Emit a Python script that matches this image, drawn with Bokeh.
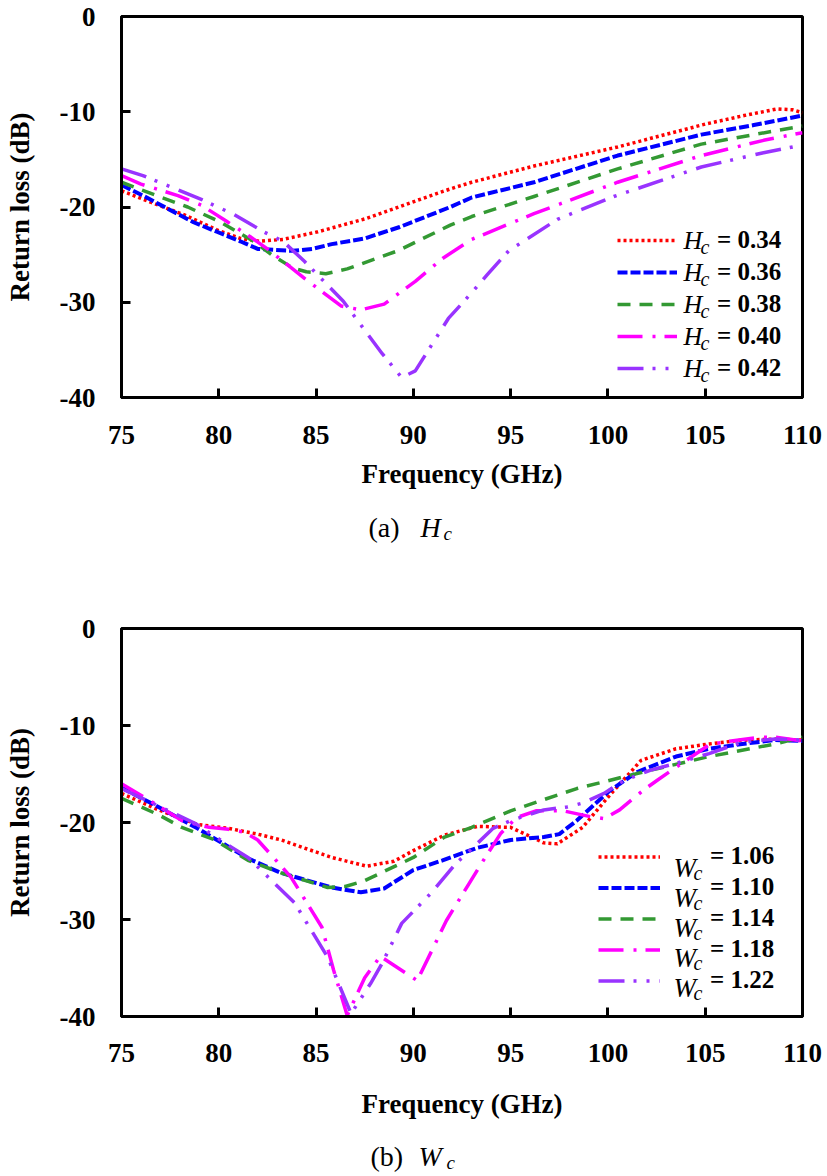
from bokeh.plotting import figure
from bokeh.models import Legend, LegendItem, Label, FixedTicker, Range1d
from bokeh.layouts import column
from bokeh.embed import file_html
from bokeh.resources import INLINE

# ---------------- data: (a) Hc ----------------
hc_labels = ["= 0.34", "= 0.36", "= 0.38", "= 0.40", "= 0.42"]

f_h034 = [75, 76.5, 78.2, 79.9, 81.1, 82.1, 83.3, 85.1, 87.6, 90.2, 91.9, 93.0, 96.2, 100.5, 105.0, 107.0, 108.7, 109.5, 110]
s_h034 = [-18.3, -19.5, -20.8, -22.4, -23.3, -23.6, -23.4, -22.6, -21.2, -19.3, -18.1, -17.4, -15.7, -13.7, -11.3, -10.4, -9.7, -9.8, -10.1]

f_h036 = [75, 76.1, 77.4, 78.7, 79.9, 81.1, 82.0, 82.8, 83.8, 84.8, 85.8, 87.5, 89.3, 91.9, 93.0, 96.2, 100.5, 104.8, 107.5, 110]
s_h036 = [-17.7, -18.8, -20.2, -21.6, -22.6, -23.6, -24.4, -24.5, -24.6, -24.4, -23.9, -23.3, -22.1, -20.0, -19.0, -17.4, -14.6, -12.4, -11.4, -10.4]

f_h038 = [75, 76.8, 78.4, 80.1, 81.8, 82.7, 83.8, 84.5, 85.5, 86.6, 89.2, 91.9, 93.0, 96.2, 100.5, 104.8, 107.5, 110]
s_h038 = [-17.4, -18.8, -20.0, -21.6, -23.6, -25.0, -26.4, -26.8, -27.0, -26.5, -24.6, -21.9, -21.0, -18.9, -16.0, -13.4, -12.4, -11.5]

f_h040 = [75, 76.0, 77.9, 79.1, 80.4, 81.6, 82.5, 84.6, 86.3, 87.3, 88.5, 90.1, 91.5, 93.0, 96.2, 100.5, 104.8, 108.0, 110]
s_h040 = [-16.7, -17.6, -18.8, -19.8, -21.5, -23.1, -24.4, -27.8, -30.4, -30.8, -30.2, -27.8, -25.4, -23.4, -20.7, -17.4, -14.6, -13.0, -12.2]

f_h042 = [75, 76.1, 77.9, 79.1, 80.8, 82.3, 83.3, 84.4, 86.4, 88.4, 89.4, 90.1, 91.8, 93.0, 93.8, 94.9, 97.4, 100.3, 104.8, 108.0, 110]
s_h042 = [-16.0, -16.7, -18.2, -19.2, -20.8, -22.6, -23.6, -25.7, -29.9, -35.4, -37.9, -37.2, -31.7, -29.0, -27.1, -24.6, -21.3, -18.9, -15.8, -14.3, -13.5]

# ---------------- data: (b) Wc ----------------
wc_labels = ["= 1.06", "= 1.10", "= 1.14", "= 1.18", "= 1.22"]

f_w106 = [75, 76.9, 78.9, 80.5, 82.0, 83.2, 85.8, 87.6, 89.0, 90.0, 91.6, 93.3, 95.0, 96.7, 97.4, 98.7, 100.0, 101.7, 103.5, 105.2, 106.9, 108.6, 110]
s_w106 = [-17.0, -18.7, -20.2, -20.6, -21.2, -21.8, -23.6, -24.5, -24.0, -22.9, -21.3, -20.4, -20.5, -22.1, -22.2, -20.5, -17.4, -13.6, -12.4, -11.9, -11.5, -11.4, -11.5]

f_w110 = [75, 76.9, 78.9, 81.5, 83.2, 85.8, 87.3, 88.5, 90.0, 91.5, 93.3, 95.0, 96.7, 97.5, 98.4, 100.1, 101.5, 103.5, 105.2, 106.9, 108.6, 110]
s_w110 = [-16.4, -18.4, -20.6, -23.7, -25.2, -26.7, -27.2, -26.8, -24.9, -23.9, -22.6, -21.8, -21.5, -21.2, -19.8, -16.7, -14.8, -13.2, -12.4, -11.9, -11.5, -11.6]

f_w114 = [75, 76.9, 78.1, 79.8, 81.5, 83.2, 85.6, 86.5, 87.5, 90.0, 91.6, 93.0, 95.0, 98.4, 101.8, 105.2, 108.6, 110]
s_w114 = [-17.5, -19.2, -20.5, -21.8, -23.9, -25.2, -26.7, -26.6, -26.0, -23.6, -21.5, -20.5, -18.8, -16.5, -14.8, -13.2, -11.9, -11.2]

f_w118 = [75, 76.5, 78.1, 79.5, 80.5, 81.3, 82.0, 83.7, 85.3, 85.9, 86.6, 87.5, 88.3, 90.2, 91.7, 92.8, 93.6, 94.5, 95.3, 96.3, 97.7, 99.1, 99.8, 100.6, 101.8, 102.5, 103.5, 105.2, 106.0, 107.8, 108.6, 110]
s_w118 = [-16.0, -17.8, -19.8, -20.5, -20.7, -21.0, -21.8, -25.6, -30.8, -35.2, -39.9, -36.0, -33.8, -36.3, -30.1, -26.5, -23.9, -21.1, -19.5, -18.8, -18.8, -19.4, -19.6, -18.7, -16.7, -15.7, -14.3, -12.0, -11.7, -11.2, -11.2, -11.6]

f_w122 = [75, 76.9, 78.8, 80.3, 81.5, 83.9, 85.6, 86.8, 87.8, 88.4, 89.4, 90.9, 92.2, 92.9, 94.1, 95.0, 96.7, 97.9, 98.7, 99.8, 100.8, 102.2, 103.5, 105.2, 106.9, 108.6, 110]
s_w122 = [-16.5, -18.3, -20.1, -22.1, -23.6, -28.3, -33.9, -39.7, -36.6, -34.5, -30.4, -27.3, -24.2, -22.9, -20.6, -19.8, -18.7, -18.4, -18.0, -17.0, -15.7, -14.6, -13.9, -12.9, -11.7, -11.4, -11.5]

x_ticks = [75, 80, 85, 90, 95, 100, 105, 110]
y_ticks = [-40, -30, -20, -10, 0]

colors = ["#FF0000", "#0000FF", "#339933", "#FF00FF", "#9933FF"]
dashes = ["3 3", "10 3", "13 9", "25 10 3 9", "26 9 3 10 3 10"]
widths = [3.5, 4, 3.5, 3.5, 3.5]

SERIF = "Liberation Serif"
PAGE_W = 827


def make_fig(height, bl, br, bt, bb, series, labels, letter, leg, tick_standoff, xlab_standoff):
    p = figure(width=PAGE_W, height=height, output_backend="svg", toolbar_location=None,
               x_range=Range1d(75, 110), y_range=Range1d(-40, 0),
               min_border_left=bl, min_border_right=br, min_border_top=bt, min_border_bottom=bb)
    p.background_fill_color = "white"
    p.border_fill_color = "white"
    p.outline_line_color = "black"
    p.outline_line_width = 3
    p.xgrid.visible = False
    p.ygrid.visible = False
    p.xaxis.ticker = FixedTicker(ticks=x_ticks)
    p.yaxis.ticker = FixedTicker(ticks=y_ticks)
    p.yaxis.major_label_overrides = {t: str(t) for t in y_ticks}
    p.xaxis.major_label_overrides = {t: str(t) for t in x_ticks}
    for ax in (p.xaxis[0], p.yaxis[0]):
        ax.axis_line_width = 3
        ax.axis_line_color = "black"
        ax.major_tick_line_width = 3
        ax.major_tick_line_color = "black"
        ax.major_tick_in = 9
        ax.major_tick_out = 0
        ax.minor_tick_line_color = None
        ax.major_label_text_font = SERIF
        ax.major_label_text_font_style = "bold"
        ax.major_label_text_font_size = "27px"
        ax.major_label_text_color = "black"
        ax.axis_label_text_font = SERIF
        ax.axis_label_text_font_style = "bold"
        ax.axis_label_text_font_size = "27px"
        ax.axis_label_text_color = "black"
    p.xaxis.major_label_standoff = tick_standoff
    p.yaxis.major_label_standoff = 26
    p.xaxis.axis_label = "Frequency (GHz)"
    p.xaxis.axis_label_standoff = xlab_standoff
    p.yaxis.axis_label = "Return loss (dB)"
    p.yaxis.axis_label_standoff = 22

    renderers = []
    for (fx, fy), c, d, w in zip(series, colors, dashes, widths):
        r = p.line(fx, fy, line_color=c, line_dash=d, line_width=w, line_join="round")
        renderers.append(r)

    (lx, ly, gw, gh, sp, stand, base, lett_x, lett_dy, sub_x, sub_dy, lett_size) = leg
    items = [LegendItem(label=lab, renderers=[r]) for lab, r in zip(labels, renderers)]
    legend = Legend(items=items, location=(lx, ly), glyph_width=gw, glyph_height=gh,
                    label_height=gh, spacing=sp, padding=0, margin=0, label_standoff=stand,
                    label_text_font=SERIF, label_text_font_style="bold",
                    label_text_font_size="25px", label_text_color="black",
                    label_text_baseline=base,
                    border_line_alpha=0, background_fill_alpha=0)
    p.add_layout(legend)
    n = len(labels)
    box_h = n * gh + (n - 1) * sp
    for i in range(n):
        cy = ly + box_h - i * (gh + sp) - gh / 2
        p.add_layout(Label(x=lett_x, y=cy + lett_dy, x_units="screen", y_units="screen",
                           text=letter, text_font=SERIF, text_font_style="italic",
                           text_font_size=lett_size, text_color="black",
                           text_baseline="alphabetic"))
        p.add_layout(Label(x=sub_x, y=cy + sub_dy, x_units="screen", y_units="screen",
                           text="c", text_font=SERIF, text_font_style="italic",
                           text_font_size="20px", text_color="black",
                           text_baseline="alphabetic"))
    return p


def make_caption(height, tag, letter, x0, x1, x2, base):
    c = figure(width=PAGE_W, height=height, output_backend="svg", toolbar_location=None,
               x_range=Range1d(0, 1), y_range=Range1d(0, 1),
               x_axis_type=None, y_axis_type=None, min_border=0)
    c.outline_line_color = None
    c.xgrid.visible = False
    c.ygrid.visible = False
    c.background_fill_color = "white"
    c.border_fill_color = "white"
    c.add_layout(Label(x=x0, y=base, x_units="screen", y_units="screen", text=tag,
                       text_font=SERIF, text_font_size="28px", text_color="black",
                       text_baseline="alphabetic"))
    c.add_layout(Label(x=x1, y=base, x_units="screen", y_units="screen", text=letter,
                       text_font=SERIF, text_font_style="italic", text_font_size="28px",
                       text_color="black", text_baseline="alphabetic"))
    c.add_layout(Label(x=x2, y=base - 6, x_units="screen", y_units="screen", text="c",
                       text_font=SERIF, text_font_style="italic", text_font_size="19px",
                       text_color="black", text_baseline="alphabetic"))
    return c


series_a = [(f_h034, s_h034), (f_h036, s_h036), (f_h038, s_h038), (f_h040, s_h040), (f_h042, s_h042)]
series_b = [(f_w106, s_w106), (f_w110, s_w110), (f_w114, s_w114), (f_w118, s_w118), (f_w122, s_w122)]

# figure (a): frame x 121..802, y 16..397
p1 = make_fig(500, 121, 25, 16, 103, series_a, hc_labels, "H",
              (496, 15, 60, 28, 4, 40, "alphabetic", 562, 0, 579, -6, "26px"), 28, 12)
# caption frames are aligned with the plot frames (left edge at 121)
cap1 = make_caption(80, "(a)", "H", 247, 299, 322, 53)
# figure (b): frame y 628..1016 (page); left edge aligned with (a)
p2 = make_fig(544, 121, 25, 48, 108, series_b, wc_labels, "W",
              (477, 22, 62, 27, 3, 50, "middle", 552, -7, 572, -12, "27px"), 27, 24)
cap2 = make_caption(50, "(b)", "W", 249, 297, 325, 18)

layout = column(p1, cap1, p2, cap2, spacing=0)
open("out.html", "w").write(file_html(layout, INLINE))
